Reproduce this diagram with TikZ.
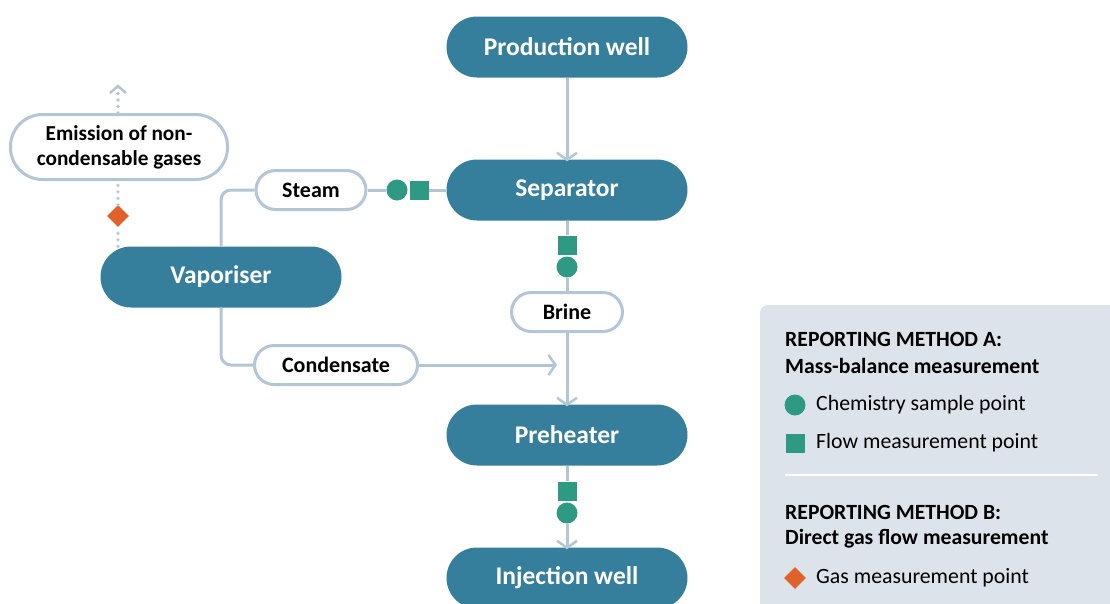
\documentclass[tikz,border=0pt]{standalone}
\usepackage{fontspec}
\setmainfont{Carlito}
\usetikzlibrary{arrows.meta,shapes.geometric}
\definecolor{teal}{HTML}{367F9C}
\definecolor{lineC}{HTML}{B4C5D5}
\definecolor{mark}{HTML}{2F9A84}
\definecolor{orng}{HTML}{E0622A}
\definecolor{legbg}{HTML}{DDE3EA}
\tikzset{
  mainbox/.style={rectangle, rounded corners=30.5pt, fill=teal, text=white, minimum width=241pt, minimum height=61pt, font=\fontsize{25.5}{30}\selectfont\bfseries, inner sep=0pt},
  pill/.style={rectangle, rounded corners=19.5pt, draw=lineC, line width=3pt, fill=white, minimum height=39pt, font=\fontsize{22}{26}\selectfont\bfseries, inner sep=0pt},
  conn/.style={draw=lineC, line width=3pt},
  arr/.style={conn, -{Straight Barb[length=7pt,width=20pt,line width=2.5pt]}},
  dots/.style={draw=lineC, line width=3.6pt, line cap=round, dash pattern=on 0pt off 6.5pt},
  circ/.style={circle, fill=mark, minimum size=21pt, inner sep=0pt},
  sq/.style={rectangle, fill=mark, minimum size=19pt, inner sep=0pt},
  dia/.style={diamond, fill=orng, minimum size=22pt, inner sep=0pt},
  legtext/.style={anchor=west, font=\fontsize{21.8}{25}\selectfont, inner sep=0pt},
  leghead/.style={anchor=west, font=\fontsize{21.7}{25}\selectfont\bfseries, inner sep=0pt}
}
\begin{document}
\begin{tikzpicture}[x=1pt,y=-1pt]
\useasboundingbox (0,0) rectangle (1110,603);
\clip (0,0) rectangle (1110,603);
% legend background
\fill[legbg, rounded corners=8pt] (760,305) rectangle (1130,630);
% main nodes
\node[mainbox] (prod) at (567,47) {Production well};
\node[mainbox] (sep) at (567,190) {Separator};
\node[mainbox] (pre) at (567,435) {Preheater};
\node[mainbox] (inj) at (567,578) {Injection well};
\node[mainbox] (vap) at (221,277) {Vaporiser};
% pills
\node[pill, minimum width=217pt, minimum height=65pt, rounded corners=32pt, align=center, font=\fontsize{21.3}{25}\selectfont\bfseries] (emis) at (119,147) {Emission of non-\\condensable gases};
\node[pill, minimum width=110pt] (steam) at (311,190) {Steam};
\node[pill, minimum width=111pt] (brine) at (567,312) {Brine};
\node[pill, minimum width=163pt] (cond) at (336,365) {Condensate};
% markers
\node[circ] (c1) at (397,190) {};
\node[sq] (s1) at (419,190) {};
\node[sq] (s2) at (567,245) {};
\node[circ] (c2) at (567,267) {};
\node[sq] (s3) at (567,491) {};
\node[circ] (c3) at (567,513) {};
\node[dia] (d1) at (118,216) {};
\coordinate (emtop) at (118,86);
\coordinate (jn) at (567,365);
% connectors
\draw[arr] (prod.south) -- ([yshift=-2pt]sep.north);
\draw[conn] (sep.west) -- (s1.east);
\draw[conn] (c1.west) -- (steam.east);
\draw[conn] (sep.south) -- (s2.north);
\draw[conn] (c2.south) -- (brine.north);
\draw[arr] (brine.south) -- ([yshift=-2pt]pre.north);
\draw[conn] (pre.south) -- (s3.north);
\draw[arr] (c3.south) -- ([yshift=-2pt]inj.north);
\draw[conn, rounded corners=10pt] (vap.north) |- (steam.west);
\draw[conn, rounded corners=10pt] (vap.south) |- (cond.west);
\draw[arr] (cond.east) -- ([xshift=-10pt]jn);
\draw[dots] (vap.north -| d1) -- (d1.south);
\draw[dots] (d1.north) -- (emis.south -| d1);
\draw[dots] (emis.north -| d1) -- ([yshift=4pt]emtop);
\draw[draw=lineC, line width=2.5pt] (110,93) -- (118,86) -- (126,93);
% legend
\node[leghead] (lha) at (785,339) {REPORTING METHOD A:};
\node[leghead] (lhb) at (785,366) {Mass-balance measurement};
\node[circ] (lc) at (795,405) {};
\node[legtext] (ltc) at (816,405) {Chemistry sample point};
\node[sq] (ls) at (795,443) {};
\node[legtext] (lts) at (816,443) {Flow measurement point};
\draw[white, line width=1.2pt] (785,475) -- (1098,475);
\node[leghead] (lhc) at (785,512) {REPORTING METHOD B:};
\node[leghead] (lhd) at (785,539) {Direct gas flow measurement};
\node[dia] (ld) at (795,578) {};
\node[legtext] (ltd) at (816,578) {Gas measurement point};
\end{tikzpicture}
\end{document}
